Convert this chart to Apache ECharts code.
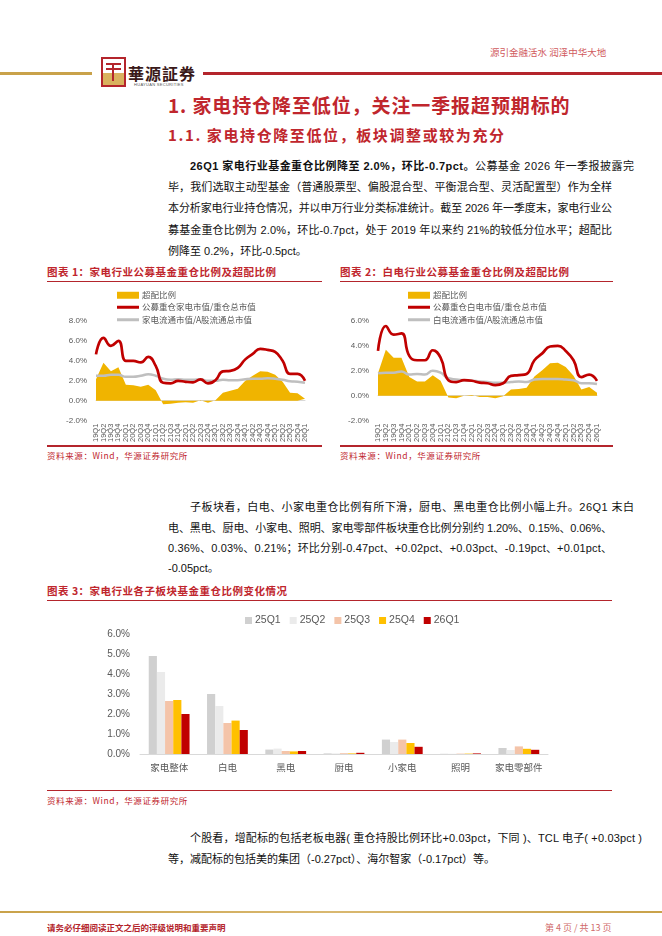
<!DOCTYPE html>
<html>
<head>
<meta charset="utf-8">
<script src="https://cdn.jsdelivr.net/npm/echarts/dist/echarts.min.js"></script>
<style>
  body { margin: 0; width: 662px; height: 936px; position: relative; background: #fff; overflow: hidden;
         font-family: "Liberation Sans", "Noto Sans CJK SC", sans-serif; }
  .abs { position: absolute; }
  .ln { position: absolute; left: 168px; width: 444px; height: 20px; line-height: 20px; font-size: 11px; color: #111;
        white-space: nowrap; }
  .ind { padding-left: 22px; }
  .cap { position: absolute; font-size: 10.5px; font-weight: bold; color: #C0262D; font-family: "Noto Sans CJK SC", sans-serif; letter-spacing: 0.5px; }
  .rule { position: absolute; height: 1px; background: #B4252C; }
  .src { position: absolute; font-size: 8.5px; color: #C0262D; font-family: "Noto Sans CJK SC", sans-serif; letter-spacing: 0.6px; }
  .chart { position: absolute; }
</style>
</head>
<body>
<!-- 页眉 -->
<div class="abs" style="left:0;top:72px;width:92px;height:3px;background:#C9A24A"></div>
<div class="abs" style="left:203px;top:72px;width:459px;height:3px;background:#B4252C"></div>
<div class="abs" style="left:101px;top:57px;width:21px;height:26px;border:2px solid #B4252C;background:linear-gradient(#fff 0,#fff 55%,#D9B25E 55%,#D9B25E 100%)">
  <div class="abs" style="left:3px;top:4px;width:15px;height:2px;background:#B4252C"></div>
  <div class="abs" style="left:3px;top:9px;width:15px;height:2px;background:#B4252C"></div>
  <div class="abs" style="left:9px;top:4px;width:2px;height:18px;background:#B4252C"></div>
</div>
<div class="abs" style="left:128px;top:61px;font-size:16px;font-weight:bold;color:#3A1A1A;font-family:'Noto Sans CJK SC';letter-spacing:1px">華源証券</div>
<div class="abs" style="left:134px;top:82px;font-size:4px;color:#555;letter-spacing:0.3px">HUAYUAN SECURITIES</div>
<div class="abs" style="left:490px;top:45px;font-size:9.5px;color:#D0595C;font-family:'Noto Sans CJK SC'">源引金融活水 润泽中华大地</div>

<!-- 标题 -->
<div class="abs" style="left:168px;top:91px;font-size:19px;font-weight:bold;color:#C0262D;font-family:'Noto Sans CJK SC';letter-spacing:0.9px">1. 家电持仓降至低位，关注一季报超预期标的</div>
<div class="abs" style="left:168px;top:124px;font-size:15px;font-weight:bold;color:#C0262D;font-family:'Noto Sans CJK SC';letter-spacing:1.6px">1.1. 家电持仓降至低位，板块调整或较为充分</div>

<!-- 正文 1 -->
<div class="ln ind fit" style="top:156px"><b>26Q1 家电行业基金重仓比例降至 2.0%，环比-0.7pct。</b>公募基金 2026 年一季报披露完</div>
<div class="ln fit" style="top:177px">毕，我们选取主动型基金（普通股票型、偏股混合型、平衡混合型、灵活配置型）作为全样</div>
<div class="ln fit" style="top:198px">本分析家电行业持仓情况，并以申万行业分类标准统计。截至 2026 年一季度末，家电行业公</div>
<div class="ln fit" style="top:220px">募基金重仓比例为 2.0%，环比-0.7pct，处于 2019 年以来约 21%的较低分位水平；超配比</div>
<div class="ln" style="top:241px">例降至 0.2%，环比-0.5pct。</div>

<!-- 图表 1 / 2 -->
<div class="cap" style="left:47px;top:264px">图表 1：家电行业公募基金重仓比例及超配比例</div>
<div class="rule" style="left:47px;top:281px;width:275px"></div>
<div class="cap" style="left:340px;top:264px">图表 2：白电行业公募基金重仓比例及超配比例</div>
<div class="rule" style="left:340px;top:281px;width:273px"></div>
<div id="c1" class="chart" style="left:47px;top:283px;width:275px;height:162px"></div>
<div id="c2" class="chart" style="left:340px;top:283px;width:273px;height:162px"></div>
<div class="rule" style="left:47px;top:445px;width:275px;height:1.5px"></div>
<div class="rule" style="left:340px;top:445px;width:273px;height:1.5px"></div>
<div class="src" style="left:47px;top:449px">资料来源：Wind，华源证券研究所</div>
<div class="src" style="left:340px;top:449px">资料来源：Wind，华源证券研究所</div>

<!-- 正文 2 -->
<div class="ln ind fit" style="top:497px">子板块看，白电、小家电重仓比例有所下滑，厨电、黑电重仓比例小幅上升。26Q1 末白</div>
<div class="ln fit" style="top:518px">电、黑电、厨电、小家电、照明、家电零部件板块重仓比例分别约 1.20%、0.15%、0.06%、</div>
<div class="ln fit" style="top:538px">0.36%、0.03%、0.21%；环比分别-0.47pct、+0.02pct、+0.03pct、-0.19pct、+0.01pct、</div>
<div class="ln" style="top:558px">-0.05pct。</div>

<!-- 图表 3 -->
<div class="cap" style="left:47px;top:583px">图表 3：家电行业各子板块基金重仓比例变化情况</div>
<div class="rule" style="left:47px;top:600px;width:565px"></div>
<div id="c3" class="chart" style="left:47px;top:603px;width:565px;height:187px"></div>
<div class="rule" style="left:47px;top:790px;width:565px"></div>
<div class="src" style="left:47px;top:794px">资料来源：Wind，华源证券研究所</div>

<!-- 正文 3 -->
<div class="ln ind fit" style="top:828px;width:452px">个股看，增配标的包括老板电器( 重仓持股比例环比+0.03pct，下同 )、TCL 电子( +0.03pct )</div>
<div class="ln" style="top:849px">等，减配标的包括美的集团（-0.27pct）、海尔智家（-0.17pct）等。</div>

<!-- 页脚 -->
<div class="abs" style="left:0;top:911px;width:662px;height:2px;background:linear-gradient(90deg,#C9A24A,#D9B870,#C9A24A)"></div>
<div class="abs" style="left:47px;top:921px;font-size:8.5px;font-weight:bold;color:#B4252C;font-family:'Noto Sans CJK SC'">请务必仔细阅读正文之后的评级说明和重要声明</div>
<div class="abs" style="left:545px;top:921px;font-size:9px;color:#D06A6A;font-family:'Noto Sans CJK SC'">第 4 页 / 共 13 页</div>

<script>
// 两端对齐：按行宽调整字距
document.querySelectorAll('.ln.fit').forEach(function (el) {
  var pad = el.classList.contains('ind') ? 22 : 0;
  var target = el.clientWidth - pad;
  var span = document.createElement('span');
  while (el.firstChild) span.appendChild(el.firstChild);
  el.appendChild(span);
  var w = span.getBoundingClientRect().width;
  var n = span.textContent.length;
  span.style.letterSpacing = ((target - w) / (n - 1)) + 'px';
});

// 季度标签
var quarters = ['19Q1','19Q2','19Q3','19Q4','20Q1','20Q2','20Q3','20Q4','21Q1','21Q2','21Q3','21Q4',
  '22Q1','22Q2','22Q3','22Q4','23Q1','23Q2','23Q3','23Q4','24Q1','24Q2','24Q3','24Q4','25Q1','25Q2','25Q3','25Q4','26Q1'];

// 图表1 家电
var hdOver = [2.15,3.8,2.95,3.35,1.6,1.55,1.4,1.6,1.05,-0.35,-0.3,-0.2,-0.15,-0.2,0.05,-0.2,0.05,0.8,1.0,1.2,2.0,2.5,2.95,2.9,2.6,1.9,0.8,0.75,0.2];
var hdFund = [4.65,6.3,5.5,6.0,4.0,4.0,3.85,4.4,3.5,1.8,1.75,2.0,1.9,1.85,2.15,1.75,2.05,2.95,3.0,3.3,4.15,4.7,5.2,5.1,4.9,4.0,2.7,2.7,2.0];
var hdMkt  = [2.5,2.5,2.6,2.6,2.4,2.4,2.5,2.65,2.5,2.2,2.1,2.15,2.1,2.1,2.15,2.0,2.0,2.1,2.05,2.05,2.15,2.2,2.2,2.25,2.2,2.1,1.95,1.9,1.8];

// 图表2 白电
var bdOver = [1.8,3.7,3.05,3.05,1.5,1.15,1.15,1.65,1.2,-0.15,-0.2,0.0,0.05,-0.1,-0.1,-0.2,-0.05,0.5,0.55,0.65,1.55,2.05,2.6,2.65,2.3,1.6,0.5,0.7,0.25];
var bdFund = [3.6,5.6,4.9,5.0,3.2,2.85,2.85,3.65,3.05,1.25,1.1,1.25,1.2,1.05,1.0,0.85,1.0,1.6,1.65,1.75,2.85,3.4,3.95,4.0,3.6,2.85,1.5,1.7,1.2];
var bdMkt  = [1.8,1.85,1.85,1.95,1.7,1.75,1.7,2.0,1.85,1.4,1.3,1.25,1.2,1.15,1.1,1.05,1.05,1.1,1.15,1.1,1.3,1.35,1.35,1.35,1.3,1.25,1.0,1.0,0.95];

// 图表3 子板块
var sectors = ['家电整体','白电','黑电','厨电','小家电','照明','家电零部件'];
var periods = ['25Q1','25Q2','25Q3','25Q4','26Q1'];
var s25Q1 = [4.9,3.0,0.22,0.03,0.72,0.01,0.30];
var s25Q2 = [4.1,2.4,0.27,0.03,0.60,0.01,0.20];
var s25Q3 = [2.65,1.55,0.15,0.04,0.72,0.02,0.38];
var s25Q4 = [2.7,1.67,0.13,0.03,0.55,0.02,0.26];
var s26Q1 = [2.0,1.20,0.15,0.06,0.36,0.03,0.21];
var barColors = ['#D0D0D0','#EBEBEB','#F4C4A9','#FFC000','#C00000'];

var cjk = '"Noto Sans CJK SC", sans-serif';
var num = '"Liberation Sans", Arial, sans-serif';

function pct(v) { return v.toFixed(1) + '%'; }

function lineOpt(names, over, fund, mkt, ymax, grid, legendLeft) {
  var legText = { fontSize: 8.5, color: '#595959', fontFamily: cjk, padding: [0, 0, 0, -2] };
  return {
    animation: false,
    legend: [
      { orient: 'vertical', left: legendLeft, top: 3, itemWidth: 22, itemHeight: 7,
        textStyle: legText, data: [{ name: names[0], icon: 'rect' }] },
      { orient: 'vertical', left: legendLeft, top: 15, itemGap: 4, itemWidth: 22, itemHeight: 3,
        textStyle: legText, data: [{ name: names[1], icon: 'rect' }, { name: names[2], icon: 'rect' }] }
    ],
    grid: grid,
    xAxis: {
      type: 'category', data: quarters, boundaryGap: false,
      axisLine: { onZero: true, lineStyle: { color: '#D9D9D9' } },
      axisTick: { show: false },
      axisLabel: { rotate: 90, interval: 0, fontSize: 7.5, color: '#595959', fontFamily: num, margin: 3 }
    },
    yAxis: {
      type: 'value', min: -2, max: ymax, interval: 2,
      splitLine: { show: false }, axisLine: { show: false }, axisTick: { show: false },
      axisLabel: { formatter: pct, fontSize: 8, color: '#595959', fontFamily: num, margin: 9 }
    },
    series: [
      { name: names[0], type: 'line', data: over, symbol: 'none', color: '#F0B400',
        lineStyle: { width: 0 }, areaStyle: { color: '#F0B400', opacity: 1 }, z: 1 },
      { name: names[2], type: 'line', data: mkt, symbol: 'none', smooth: true, color: '#BFBFBF',
        lineStyle: { width: 2.5, color: '#BFBFBF' }, z: 2 },
      { name: names[1], type: 'line', data: fund, symbol: 'none', smooth: true, color: '#C00000',
        lineStyle: { width: 2.7, color: '#C00000' }, z: 3 }
    ]
  };
}

var c1 = echarts.init(document.getElementById('c1'));
c1.setOption(lineOpt(['超配比例', '公募重仓家电市值/重仓总市值', '家电流通市值/A股流通总市值'],
  hdOver, hdFund, hdMkt, 8, { left: 49, right: 17, top: 38, bottom: 19 }, 65));

var c2 = echarts.init(document.getElementById('c2'));
c2.setOption(lineOpt(['超配比例', '公募重仓白电市值/重仓总市值', '白电流通市值/A股流通总市值'],
  bdOver, bdFund, bdMkt, 6, { left: 38, right: 16, top: 38, bottom: 22 }, 63));

var barData = [s25Q1, s25Q2, s25Q3, s25Q4, s26Q1];
var c3 = echarts.init(document.getElementById('c3'));
c3.setOption({
  animation: false,
  legend: {
    left: 193, top: 7, itemWidth: 7, itemHeight: 7, itemGap: 9,
    textStyle: { fontSize: 10.5, color: '#595959', fontFamily: num, padding: [0, 0, 0, -2] },
    data: periods.map(function (p) { return { name: p, icon: 'rect' }; })
  },
  grid: { left: 93, right: 64, top: 31, bottom: 36 },
  xAxis: {
    type: 'category', data: sectors,
    axisLine: { lineStyle: { color: '#D9D9D9' } }, axisTick: { show: false },
    axisLabel: { interval: 0, fontSize: 9.5, color: '#595959', fontFamily: cjk, margin: 9 }
  },
  yAxis: {
    type: 'value', min: 0, max: 6, interval: 1,
    splitLine: { show: false }, axisLine: { show: false }, axisTick: { show: false },
    axisLabel: { formatter: pct, fontSize: 10, color: '#595959', fontFamily: num, margin: 10 }
  },
  series: periods.map(function (p, i) {
    return { name: p, type: 'bar', data: barData[i], color: barColors[i],
             barGap: '0%', barCategoryGap: '30%' };
  })
});
</script>
</body>
</html>
